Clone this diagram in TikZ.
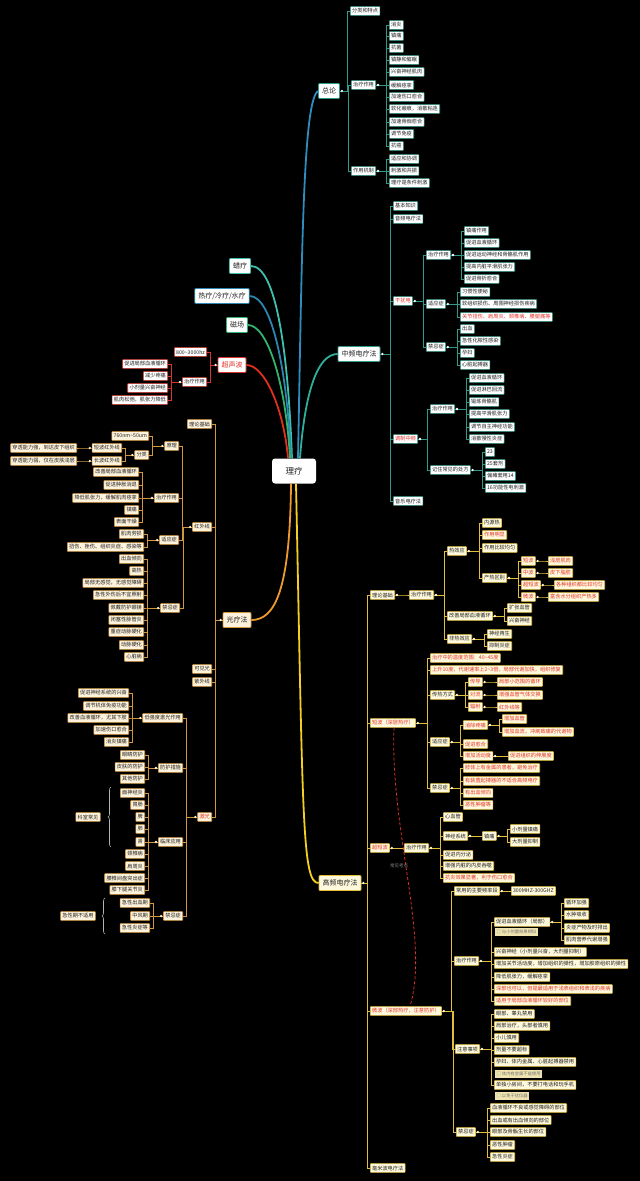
\documentclass[tikz,border=0pt]{standalone}
\usepackage{fontspec}
\newfontfamily\cjk{Noto Sans CJK SC}
\usetikzlibrary{calc,decorations.pathreplacing}
\definecolor{txt}{HTML}{222222}
\definecolor{tB}{HTML}{2E9C88}
\definecolor{oB}{HTML}{D2963C}
\definecolor{oF}{HTML}{FDF2DC}
\definecolor{yB}{HTML}{E2BE3A}
\definecolor{yF}{HTML}{FEF8DC}
\definecolor{rB}{HTML}{D8342A}
\definecolor{rT}{HTML}{E5352B}
\definecolor{nF}{HTML}{EFE3B0}
\definecolor{cA}{HTML}{2F8DBE}
\definecolor{cB}{HTML}{3FC0AE}
\definecolor{cC}{HTML}{2C86B0}
\definecolor{cD}{HTML}{33B36E}
\definecolor{cE}{HTML}{E0301E}
\definecolor{cF}{HTML}{2FAF9A}
\definecolor{cG}{HTML}{EE9A2E}
\definecolor{cH}{HTML}{F4CF22}
\newcommand\kidsR[4]{\foreach \kk in {#4}{\draw[#1] (#3.east) -| ($(\kk.west)+(-3,0)$) -- (\kk.west);}\fill[#2] ($(#3.east)+(2,0)$) circle (1.3pt);}
\newcommand\kidsL[4]{\foreach \kk in {#4}{\draw[#1] (#3.west) -| ($(\kk.east)+(3,0)$) -- (\kk.east);}\fill[#2] ($(#3.west)+(-2,0)$) circle (1.3pt);}
\tikzset{
 base/.style={font=\cjk\fontsize{5.2}{6}\selectfont, inner xsep=1.8pt, inner ysep=0pt, minimum height=8.8pt, rounded corners=0.6pt, line width=0.6pt, text=txt},
 tn/.style={base, draw=tB, fill=white},
 on/.style={base, draw=oB, fill=oF},
 yn/.style={base, draw=yB, fill=yF},
 rn/.style={base, draw=rB, fill=white},
 redt/.style={text=rT},
 noteN/.style={font=\cjk\fontsize{4.3}{5}\selectfont, fill=nF, text=black!55, inner xsep=1.5pt, inner ysep=0pt, minimum height=8pt},
 mainN/.style={font=\cjk\fontsize{7}{8}\selectfont, inner xsep=3.5pt, inner ysep=0pt, minimum height=15pt, rounded corners=1pt, line width=0.8pt, text=txt},
 rootN/.style={font=\cjk\fontsize{8.5}{9}\selectfont, fill=white, text=txt, rounded corners=3pt, minimum width=44pt, minimum height=25pt},
 tlink/.style={draw=tB, line width=0.7pt},
 olink/.style={draw=oB, line width=0.7pt},
 ylink/.style={draw=yB, line width=0.7pt},
 rlink/.style={draw=rB, line width=0.7pt},
 br/.style={draw=black!30, line width=0.6pt, decorate, decoration={brace, amplitude=3pt}},
 mline/.style={line width=1.8pt}
}
\begin{document}
\begin{tikzpicture}[x=1pt,y=-1pt]
\fill[black] (0,0) rectangle (640,1181);
\useasboundingbox (0,0) rectangle (640,1181);

\node[rootN] (root) at (294,471) {理疗};

% ---------- 总论 ----------
\node[mainN, draw=tB, fill=white] (zl) at (329,91) {总论};
\node[tn, anchor=west] (zl1) at (350,11) {分类和特点};
\node[tn, anchor=west] (zl2) at (351,85) {治疗作用};
\node[tn, anchor=west] (zl3) at (351,171) {作用机制};
\node[tn, anchor=west] (za1) at (389,25) {消炎};
\node[tn, anchor=west] (za2) at (389,36) {镇痛};
\node[tn, anchor=west] (za3) at (389,48) {抗菌};
\node[tn, anchor=west] (za4) at (389,60) {镇静和催眠};
\node[tn, anchor=west] (za5) at (389,72) {兴奋神经肌肉};
\node[tn, anchor=west] (za6) at (389,85) {缓解痉挛};
\node[tn, anchor=west] (za7) at (389,97) {加速伤口愈合};
\node[tn, anchor=west] (za8) at (389,109) {软化瘢痕，消散粘连};
\node[tn, anchor=west] (za9) at (389,122) {加速骨痂愈合};
\node[tn, anchor=west] (za10) at (389,134) {调节免疫};
\node[tn, anchor=west] (za11) at (389,146) {抗癌};
\node[tn, anchor=west] (zb1) at (389,159) {适应和协调};
\node[tn, anchor=west] (zb2) at (389,171) {刺激和共振};
\node[tn, anchor=west] (zb3) at (389,183) {理疗是条件刺激};
\kidsR{tlink}{white}{zl}{zl1,zl2,zl3}
\kidsR{tlink}{white}{zl2}{za1,za2,za3,za4,za5,za6,za7,za8,za9,za10,za11}
\kidsR{tlink}{white}{zl3}{zb1,zb2,zb3}

% ---------- 中频 ----------
\node[mainN, draw=tB, fill=white] (zp) at (359,354) {中频电疗法};
\node[tn, anchor=west] (zp1) at (393,206) {基本知识};
\node[tn, anchor=west] (zp2) at (393,219) {音频电疗法};
\node[tn, anchor=west, redt] (zp3) at (393,301) {干扰电};
\node[tn, anchor=west, redt] (zp4) at (393,439) {调制中频};
\node[tn, anchor=west] (zp5) at (393,501) {音乐电疗法};
\kidsR{tlink}{white}{zp}{zp1,zp2,zp3,zp4,zp5}
\node[tn, anchor=west] (gr1) at (426,255) {治疗作用};
\node[tn, anchor=west] (gr2) at (426,304) {适应症};
\node[tn, anchor=west] (gr3) at (426,347) {禁忌症};
\kidsR{tlink}{white}{zp3}{gr1,gr2,gr3}
\node[tn, anchor=west] (g11) at (464,231) {镇痛作用};
\node[tn, anchor=west] (g12) at (464,243) {促进血液循环};
\node[tn, anchor=west] (g13) at (464,255) {促进运动神经和骨骼肌作用};
\node[tn, anchor=west] (g14) at (464,267) {提高内脏平滑肌张力};
\node[tn, anchor=west] (g15) at (464,279) {促进骨折愈合};
\kidsR{tlink}{white}{gr1}{g11,g12,g13,g14,g15}
\node[tn, anchor=west] (g21) at (460,292) {习惯性便秘};
\node[tn, anchor=west] (g22) at (460,304) {软组织损伤、周围神经损伤疾病};
\node[tn, anchor=west, redt] (g23) at (460,317) {关节扭伤、肩周炎、颈椎病、腰腿痛等};
\kidsR{tlink}{white}{gr2}{g21,g22,g23}
\node[tn, anchor=west] (g31) at (460,329) {出血};
\node[tn, anchor=west] (g32) at (460,341) {急性化脓性感染};
\node[tn, anchor=west] (g33) at (460,353) {孕妇};
\node[tn, anchor=west] (g34) at (460,365) {心脏起搏器};
\kidsR{tlink}{white}{gr3}{g31,g32,g33,g34}
\node[tn, anchor=west] (tz1) at (430,409) {治疗作用};
\node[tn, anchor=west] (tz2) at (430,470) {记住常见的处方};
\kidsR{tlink}{white}{zp4}{tz1,tz2}
\node[tn, anchor=west] (t11) at (469,378) {促进血液循环};
\node[tn, anchor=west] (t12) at (469,390) {促进淋巴回流};
\node[tn, anchor=west] (t13) at (469,402) {锻炼骨骼肌};
\node[tn, anchor=west] (t14) at (469,414) {提高平滑肌张力};
\node[tn, anchor=west] (t15) at (469,427) {调节自主神经功能};
\node[tn, anchor=west] (t16) at (469,439) {消散慢性炎症};
\kidsR{tlink}{white}{tz1}{t11,t12,t13,t14,t15,t16}
\node[tn, anchor=west] (t21) at (485,452) {23};
\node[tn, anchor=west] (t22) at (485,464) {25套剂};
\node[tn, anchor=west] (t23) at (485,476) {偏瘫套用14};
\node[tn, anchor=west] (t24) at (485,488) {16功能性电刺激};
\kidsR{tlink}{white}{tz2}{t21,t22,t23,t24}

% ---------- 左侧小分支 ----------
\node[mainN, draw=cB, fill=white] (lb) at (240,266) {蜡疗};
\node[mainN, draw=cC, fill=white] (rl) at (222,296) {热疗/冷疗/水疗};
\node[mainN, draw=cD, fill=white] (cc) at (237,325) {磁场};

% ---------- 超声波 ----------
\node[mainN, draw=rB, fill=white, text=rT] (csb) at (232,365) {超声波};
\node[rn, anchor=east] (cs1) at (207,352) {800\textasciitilde 3000hz};
\node[rn, anchor=east] (cs2) at (207,382) {治疗作用};
\kidsL{rlink}{white}{csb}{cs1,cs2}
\node[rn, anchor=east] (cs21) at (168,364) {促进局部血液循环};
\node[rn, anchor=east] (cs22) at (168,376) {减少疼痛};
\node[rn, anchor=east] (cs23) at (168,388) {小剂量兴奋神经};
\node[rn, anchor=east] (cs24) at (168,400) {肌肉松弛，肌张力降低};
\kidsL{rlink}{white}{cs2}{cs21,cs22,cs23,cs24}

% ---------- 光疗法 ----------
\node[mainN, draw=oB, fill=oF] (gl) at (237,620) {光疗法};
\node[on, anchor=east] (gl1) at (212,424) {理论基础};
\node[on, anchor=east] (gl2) at (212,527) {红外线};
\node[on, anchor=east] (gl3) at (212,669) {可见光};
\node[on, anchor=east] (gl4) at (212,682) {紫外线};
\node[on, anchor=east, redt] (gl5) at (212,817) {激光};
\kidsL{olink}{oF}{gl}{gl1,gl2,gl3,gl4,gl5}
\node[on, anchor=east] (ir1) at (179,446) {原理};
\node[on, anchor=east] (ir2) at (179,498) {治疗作用};
\node[on, anchor=east] (ir3) at (179,540) {适应症};
\node[on, anchor=east] (ir4) at (180,608) {禁忌症};
\kidsL{olink}{oF}{gl2}{ir1,ir2,ir3,ir4}
\node[on, anchor=east] (ir11) at (149,436) {760nm\textasciitilde 50um};
\node[on, anchor=east] (ir12) at (149,455) {分类};
\kidsL{olink}{oF}{ir1}{ir11,ir12}
\node[on, anchor=east] (ir121) at (122,448) {短波红外线};
\node[on, anchor=east] (ir122) at (122,461) {长波红外线};
\kidsL{olink}{oF}{ir12}{ir121,ir122}
\node[on, anchor=east] (ir1211) at (77,448) {穿透能力强，到达皮下组织};
\node[on, anchor=east] (ir1221) at (77,461) {穿透能力弱，仅在皮肤浅层};
\kidsL{olink}{oF}{ir121}{ir1211}
\kidsL{olink}{oF}{ir122}{ir1221}
\node[on, anchor=east] (ir21) at (139,472) {改善局部血液循环};
\node[on, anchor=east] (ir22) at (139,485) {促进肿胀消退};
\node[on, anchor=east] (ir23) at (139,498) {降低肌张力，缓解肌肉痉挛};
\node[on, anchor=east] (ir24) at (139,510) {镇痛};
\node[on, anchor=east] (ir25) at (139,522) {表面干燥};
\kidsL{olink}{oF}{ir2}{ir21,ir22,ir23,ir24,ir25}
\node[on, anchor=east] (ir31) at (144,534) {肌肉劳损};
\node[on, anchor=east] (ir32) at (144,547) {扭伤、挫伤、组织炎症、感染等};
\kidsL{olink}{oF}{ir3}{ir31,ir32}
\node[on, anchor=east] (ir41) at (144,559) {出血倾向};
\node[on, anchor=east] (ir42) at (144,571) {高热};
\node[on, anchor=east] (ir43) at (144,583) {局部无感觉，无感觉障碍};
\node[on, anchor=east] (ir44) at (144,595) {急性外伤后不宜照射};
\node[on, anchor=east] (ir45) at (144,608) {佩戴防护眼镜};
\node[on, anchor=east] (ir46) at (144,620) {闭塞性脉管炎};
\node[on, anchor=east] (ir47) at (144,632) {重症动脉硬化};
\node[on, anchor=east] (ir48) at (144,645) {动脉硬化};
\node[on, anchor=east] (ir49) at (144,657) {心脏病};
\kidsL{olink}{oF}{ir4}{ir41,ir42,ir43,ir44,ir45,ir46,ir47,ir48,ir49}
\node[on, anchor=east] (js1) at (183,718) {低强度激光作用};
\node[on, anchor=east] (js2) at (183,768) {防护措施};
\node[on, anchor=east] (js3) at (183,842) {临床应用};
\node[on, anchor=east] (js4) at (183,916) {禁忌症};
\kidsL{olink}{oF}{gl5}{js1,js2,js3,js4}
\node[on, anchor=east] (js11) at (129,693) {促进神经系统的兴奋};
\node[on, anchor=east] (js12) at (129,706) {调节机体免疫功能};
\node[on, anchor=east] (js13) at (129,718) {改善血液循环，尤其下肢};
\node[on, anchor=east] (js14) at (129,730) {加速伤口愈合};
\node[on, anchor=east] (js15) at (129,742) {消炎镇痛};
\kidsL{olink}{oF}{js1}{js11,js12,js13,js14,js15}
\node[on, anchor=east] (js21) at (145,755) {眼睛防护};
\node[on, anchor=east] (js22) at (145,767) {皮肤的防护};
\node[on, anchor=east] (js23) at (145,779) {其他防护};
\kidsL{olink}{oF}{js2}{js21,js22,js23}
\node[on, anchor=east] (js31) at (145,793) {面神经炎};
\node[on, anchor=east] (js32) at (145,805) {胃肠};
\node[on, anchor=east] (js33) at (145,817) {脾};
\node[on, anchor=east] (js34) at (145,829) {肺};
\node[on, anchor=east] (js35) at (145,842) {肾};
\node[on, anchor=east] (js36) at (145,854) {颈椎病};
\node[on, anchor=east] (js37) at (145,866) {肩周炎};
\node[on, anchor=east] (js38) at (145,878) {腰椎间盘突出症};
\node[on, anchor=east] (js39) at (145,890) {膝下腿关节炎};
\kidsL{olink}{oF}{js3}{js31,js32,js33,js34,js35,js36,js37,js38,js39}
\node[on, anchor=east] (js41) at (150,903) {急性出血期};
\node[on, anchor=east] (js42) at (150,916) {中风期};
\node[on, anchor=east] (js43) at (150,928) {急性炎症等};
\kidsL{olink}{oF}{js4}{js41,js42,js43}
\node[on] (bk1) at (88,817) {科室常见};
\coordinate (bk1a) at (111,847);
\coordinate (bk1b) at (111,787);
\draw[br] (bk1a) -- (bk1b);
\node[on] (bk2) at (78,916) {急性期不适用};
\coordinate (bk2a) at (105,934);
\coordinate (bk2b) at (105,898);
\draw[br] (bk2a) -- (bk2b);

% ---------- 高频电疗法 ----------
\node[mainN, draw=yB, fill=yF] (gp) at (340,883) {高频电疗法};
\node[yn, anchor=west] (gp1) at (370,595) {理论基础};
\node[yn, anchor=west, redt] (gp2) at (370,723) {短波（深层热疗）};
\node[yn, anchor=west, redt] (gp3) at (370,848) {超短波};
\node[yn, anchor=west, redt] (gp4) at (370,1011) {微波（深部热疗，注意防护）};
\node[yn, anchor=west] (gp5) at (370,1168) {毫米波电疗法};
\kidsR{ylink}{yF}{gp}{gp1,gp2,gp3,gp4,gp5}
\node[yn, anchor=west] (h1) at (409,595) {治疗作用};
\kidsR{ylink}{yF}{gp1}{h1}
\node[yn, anchor=west] (h11) at (447,551) {热效应};
\node[yn, anchor=west] (h12) at (447,616) {改善局部血液循环};
\node[yn, anchor=west] (h13) at (447,639) {非热效应};
\kidsR{ylink}{yF}{h1}{h11,h12,h13}
\node[yn, anchor=west] (h111) at (482,523) {内源热};
\node[yn, anchor=west, redt] (h112) at (482,535) {作用明显};
\node[yn, anchor=west] (h113) at (482,548) {作用比较均匀};
\node[yn, anchor=west] (h114) at (482,578) {产热区别};
\kidsR{ylink}{yF}{h11}{h111,h112,h113,h114}
\node[yn, anchor=west, redt] (p1) at (521,561) {短波};
\node[yn, anchor=west, redt] (p2) at (521,573) {中波};
\node[yn, anchor=west, redt] (p3) at (521,585) {超短波};
\node[yn, anchor=west, redt] (p4) at (521,597) {微波};
\kidsR{ylink}{yF}{h114}{p1,p2,p3,p4}
\node[yn, anchor=west, redt] (q1) at (548,561) {浅层肌肉};
\node[yn, anchor=west, redt] (q2) at (548,573) {皮下脂肪};
\node[yn, anchor=west, redt] (q3) at (554,585) {各种组织都比较均匀};
\node[yn, anchor=west, redt] (q4) at (548,597) {富含水分组织产热多};
\kidsR{ylink}{yF}{p1}{q1}
\kidsR{ylink}{yF}{p2}{q2}
\kidsR{ylink}{yF}{p3}{q3}
\kidsR{ylink}{yF}{p4}{q4}
\node[yn, anchor=west] (h121) at (507,608) {扩张血管};
\node[yn, anchor=west] (h122) at (507,621) {兴奋神经};
\kidsR{ylink}{yF}{h12}{h121,h122}
\node[yn, anchor=west] (h131) at (487,634) {神经再生};
\node[yn, anchor=west] (h132) at (487,646) {抑制炎症};
\kidsR{ylink}{yF}{h13}{h131,h132}

\node[yn, anchor=west, redt] (s1) at (430,658) {治疗中的温度范围：40\textasciitilde 45度};
\node[yn, anchor=west, redt] (s2) at (430,670) {上升10度，代谢速率上2\textasciitilde 3倍，局部代谢加快，组织修复};
\node[yn, anchor=west] (s3) at (430,695) {传热方式};
\node[yn, anchor=west] (s4) at (430,742) {适应症};
\node[yn, anchor=west] (s5) at (430,788) {禁忌症};
\kidsR{ylink}{yF}{gp2}{s1,s2,s3,s4,s5}
\node[yn, anchor=west, redt] (t1) at (468,682) {传导};
\node[yn, anchor=west, redt] (t2) at (468,695) {对流};
\node[yn, anchor=west, redt] (t3) at (468,707) {辐射};
\kidsR{ylink}{yF}{s3}{t1,t2,t3}
\node[yn, anchor=west, redt] (t1a) at (497,682) {局部小范围的循环};
\node[yn, anchor=west, redt] (t2a) at (497,695) {增强血管气体交换};
\node[yn, anchor=west, redt] (t3a) at (497,707) {红外线等};
\kidsR{ylink}{yF}{t1}{t1a}
\kidsR{ylink}{yF}{t2}{t2a}
\kidsR{ylink}{yF}{t3}{t3a}
\node[yn, anchor=west, redt] (u1) at (463,725) {消除疼痛};
\node[yn, anchor=west, redt] (u2) at (463,744) {促进愈合};
\node[yn, anchor=west, redt] (u3) at (463,756) {增加活动度};
\kidsR{ylink}{yF}{s4}{u1,u2,u3}
\node[yn, anchor=west, redt] (u11) at (502,719) {增加血管};
\node[yn, anchor=west, redt] (u12) at (502,732) {增加血流，冲刷致痛的代谢物};
\kidsR{ylink}{yF}{u1}{u11,u12}
\node[yn, anchor=west, redt] (u31) at (508,756) {促进组织的伸展度};
\kidsR{ylink}{yF}{u3}{u31}
\node[yn, anchor=west, redt] (v1) at (463,768) {肢体上有金属的患者，避免治疗};
\node[yn, anchor=west, redt] (v2) at (463,781) {有装置起搏器的不适合高频电疗};
\node[yn, anchor=west, redt] (v3) at (463,793) {有出血倾向};
\node[yn, anchor=west, redt] (v4) at (463,805) {恶性肿瘤等};
\kidsR{ylink}{yF}{s5}{v1,v2,v3,v4}

\node[yn, anchor=west] (w1) at (404,848) {治疗作用};
\kidsR{ylink}{yF}{gp3}{w1}
\node[yn, anchor=west] (w11) at (443,817) {心血管};
\node[yn, anchor=west] (w12) at (443,836) {神经系统};
\node[yn, anchor=west] (w13) at (443,855) {促进内分泌};
\node[yn, anchor=west] (w14) at (443,866) {增强内脏的内皮吞噬};
\node[yn, anchor=west, redt] (w15) at (443,878) {抗炎效果显著，利于伤口愈合};
\kidsR{ylink}{yF}{w1}{w11,w12,w13,w14,w15}
\node[yn, anchor=west] (w121) at (482,836) {镇痛};
\kidsR{ylink}{yF}{w12}{w121}
\node[yn, anchor=west] (w1211) at (510,829) {小剂量镇痛};
\node[yn, anchor=west] (w1212) at (510,842) {大剂量抑制};
\kidsR{ylink}{yF}{w121}{w1211,w1212}
\node[font=\cjk\fontsize{4.5}{5}\selectfont, text=black!45] (kd) at (399,866) {常见考点};

\node[yn, anchor=west] (m1) at (454,891) {常用的主要频率段};
\node[yn, anchor=west] (m2) at (454,961) {治疗作用};
\node[yn, anchor=west] (m3) at (455,1049) {注意事项};
\node[yn, anchor=west] (m4) at (456,1132) {禁忌症};
\kidsR{ylink}{yF}{gp4}{m1,m2,m3,m4}
\node[yn, anchor=west] (m11) at (511,891) {300MHZ-300GHZ};
\kidsR{ylink}{yF}{m1}{m11}
\node[yn, anchor=west] (m21) at (494,922) {促进血液循环（局部）};
\node[yn, anchor=west] (m22) at (494,952) {兴奋神经（小剂量兴奋，大剂量抑制）};
\node[yn, anchor=west] (m23) at (494,964) {增加关节活动度，增加组织的弹性，增加胶原组织的弹性};
\node[yn, anchor=west] (m24) at (494,977) {降低肌张力，缓解痉挛};
\node[yn, anchor=west, redt] (m25) at (494,989) {深部也可以，但是最适用于浅表组织和表浅的疾病};
\node[yn, anchor=west, redt] (m26) at (494,1001) {适用于局部血液循环较好的部位};
\kidsR{ylink}{yF}{m2}{m21,m22,m23,m24,m25,m26}
\node[noteN, anchor=west] (nt1) at (495,932) {□ 与小剂量效果相似};
\node[yn, anchor=west] (m211) at (564,903) {循环加强};
\node[yn, anchor=west] (m212) at (564,915) {水肿吸收};
\node[yn, anchor=west] (m213) at (564,928) {炎症产物及时排出};
\node[yn, anchor=west] (m214) at (564,940) {肌肉营养代谢增强};
\kidsR{ylink}{yF}{m21}{m211,m212,m213,m214}
\node[yn, anchor=west] (m31) at (494,1014) {眼部、睾丸禁用};
\node[yn, anchor=west] (m32) at (494,1026) {局部治疗，头部者慎用};
\node[yn, anchor=west] (m33) at (494,1038) {小儿慎用};
\node[yn, anchor=west] (m34) at (494,1050) {剂量不要超标};
\node[yn, anchor=west] (m35) at (494,1062) {孕妇、体内金属、心脏起搏器禁用};
\node[yn, anchor=west] (m36) at (494,1085) {单独小房间，不要打电话和玩手机};
\kidsR{ylink}{yF}{m3}{m31,m32,m33,m34,m35,m36}
\node[noteN, anchor=west] (nt2) at (495,1074) {□ 体内有金属不能使用};
\node[noteN, anchor=west] (nt3) at (495,1096) {□ 以免干扰仪器};
\node[yn, anchor=west] (m41) at (490,1108) {血液循环不良或感觉障碍的部位};
\node[yn, anchor=west] (m42) at (490,1120) {出血或有出血倾向的部位};
\node[yn, anchor=west] (m43) at (490,1132) {眼部及骨骺生长的部位};
\node[yn, anchor=west] (m44) at (490,1145) {恶性肿瘤};
\node[yn, anchor=west] (m45) at (490,1157) {急性炎症};
\kidsR{ylink}{yF}{m4}{m41,m42,m43,m44,m45}

% dashed relation
\draw[rB, line width=0.8pt, dash pattern=on 3pt off 2pt] (gp2.south -| 394,0) .. controls (390,830) and (430,940) .. (gp4.north -| 410,0);

% ---------- 主干曲线 ----------
\draw[mline, cA] ([xshift=4pt]root.north) .. controls (302,250) and (303,100) .. (zl.west);
\draw[mline, cB] ([xshift=-2pt]root.north) .. controls (288,350) and (276,266) .. (lb.east);
\draw[mline, cC] ([xshift=-3pt]root.north) .. controls (287,370) and (272,296) .. (rl.east);
\draw[mline, cD] ([xshift=-4pt]root.north) .. controls (286,385) and (268,325) .. (cc.east);
\draw[mline, cE] ([xshift=-6pt]root.north) .. controls (284,410) and (265,365) .. (csb.east);
\draw[mline, cF] ([xshift=6pt]root.north) .. controls (305,390) and (318,354) .. (zp.west);
\draw[mline, cG] ([xshift=-3pt]root.south) .. controls (290,590) and (275,620) .. (gl.east);
\draw[mline, cH] ([xshift=2pt]root.south) .. controls (303,820) and (302,883) .. (gp.west);
\end{tikzpicture}
\end{document}
